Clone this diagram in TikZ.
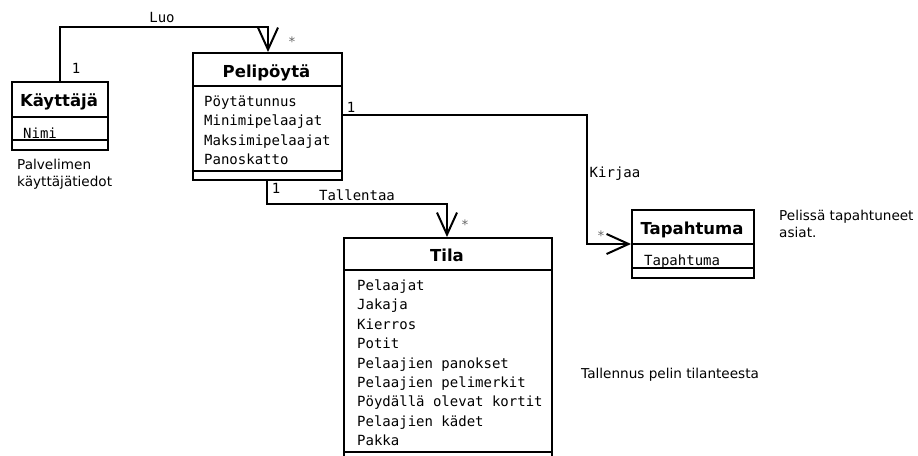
\documentclass[tikz,border=0pt]{standalone}
\usepackage{fontspec}
\setmainfont{DejaVu Sans}
\newfontfamily\monof{DejaVu Sans Mono}
\usetikzlibrary{arrows.meta}
\begin{document}
\begin{tikzpicture}[x=1pt,y=-1pt,
  box/.style={draw, line width=2pt, rectangle, anchor=north west, inner sep=0pt},
  sepline/.style={line width=2pt},
  title/.style={font=\fontsize{16.5}{19}\selectfont\bfseries, anchor=base, inner sep=0pt},
  attr/.style={font=\monof\fontsize{14}{19.4}\selectfont, anchor=base west, align=left, inner sep=0pt},
  lbl/.style={font=\monof\fontsize{14}{16}\selectfont, anchor=base, inner sep=0pt},
  star/.style={font=\monof\fontsize{13}{16}\selectfont, anchor=base, inner sep=0pt, text=black!60},
  note/.style={font=\fontsize{13.6}{17}\selectfont, anchor=base west, align=left, inner sep=0pt},
  assoc/.style={line width=2pt, -{Straight Barb[length=22pt,width=20pt,line width=2pt]}},
]
\useasboundingbox (0,0) rectangle (918,455);
\clip (0,0) rectangle (918,455);

% ---- Käyttäjä
\node[box, minimum width=96pt, minimum height=68pt] (kay) at (11,81) {};
\draw[sepline] (11,117) -- (107,117);
\draw[sepline] (11,140) -- (107,140);
\node[title] (kayT) at (59,106) {Käyttäjä};
\node[attr] (kayA) at (23,138) {Nimi};

% ---- Pelipöytä
\node[box, minimum width=149pt, minimum height=127pt] (pel) at (192,52) {};
\draw[sepline] (192,86) -- (341,86);
\draw[sepline] (192,171) -- (341,171);
\node[title] (pelT) at (266.5,77) {Pelipöytä};
\node[attr, anchor=north west] (pelA) at (204,95.5) {Pöytätunnus\\Minimipelaajat\\Maksimipelaajat\\Panoskatto};

% ---- Tila
\node[box, minimum width=208pt, minimum height=240pt] (tila) at (343,237) {};
\draw[sepline] (343,270) -- (551,270);
\draw[sepline] (343,451.5) -- (551,451.5);
\node[title] (tilaT) at (447,261) {Tila};
\node[attr, anchor=north west] (tilaA) at (357,279.5) {Pelaajat\\Jakaja\\Kierros\\Potit\\Pelaajien panokset\\Pelaajien pelimerkit\\Pöydällä olevat kortit\\Pelaajien kädet\\Pakka};

% ---- Tapahtuma
\node[box, minimum width=122pt, minimum height=68pt] (tap) at (631,209) {};
\draw[sepline] (631,244) -- (753,244);
\draw[sepline] (631,268) -- (753,268);
\node[title] (tapT) at (692,234.5) {Tapahtuma};
\node[attr] (tapA) at (644,265) {Tapahtuma};

% ---- connectors
\coordinate (luoA) at (60,27);
\coordinate (luoB) at (268,27);
\draw[assoc] (kay.north -| luoA) -- (luoA) -- (luoB) -- (pel.north -| luoB);

\coordinate (talA) at (267,204);
\coordinate (talB) at (447,204);
\draw[assoc] (pel.south -| talA) -- (talA) -- (talB) -- (tila.north -| talB);

\coordinate (kirA) at (587,115);
\coordinate (kirB) at (587,244);
\draw[assoc] (pel.east |- kirA) -- (kirA) -- (kirB) -- (tap.west |- kirB);

% ---- labels
\node[lbl] (lLuo) at (162,23) {Luo};
\node[lbl] (l1a) at (76,73) {1};
\node[star] (s1) at (292,46) {*};
\node[lbl] (l1b) at (351,112) {1};
\node[lbl] (l1c) at (276,193) {1};
\node[lbl] (lTal) at (357,200) {Tallentaa};
\node[star] (s2) at (465,229) {*};
\node[lbl] (lKir) at (615,177) {Kirjaa};
\node[star] (s3) at (601,240) {*};

% ---- notes
\node[note] (n1) at (17,186) {Palvelimen\\käyttäjätiedot};
\node[note] (n2) at (779,237) {Pelissä tapahtuneet\\asiat.};
\node[note] (n3) at (581,378) {Tallennus pelin tilanteesta};
\end{tikzpicture}
\end{document}
